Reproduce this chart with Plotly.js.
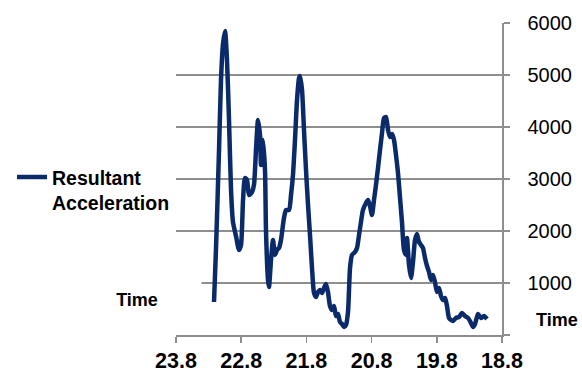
<!DOCTYPE html>
<html>
<head>
<meta charset="utf-8">
<script src="https://cdn.plot.ly/plotly-3.0.1.min.js"></script>
<style>html,body{margin:0;padding:0;background:#fff;}#chart{width:582px;height:372px;}</style>
</head>
<body>
<div id="chart"></div>
<script>
var seriesName = "Resultant<br>Acceleration";
var timeValues = [23.217,23.187,23.140,23.110,23.079,23.048,23.018,22.987,22.956,22.926,22.880,22.834,22.803,22.772,22.742,22.711,22.680,22.634,22.604,22.573,22.542,22.512,22.496,22.466,22.435,22.420,22.389,22.374,22.343,22.312,22.282,22.251,22.220,22.190,22.144,22.113,22.067,22.036,22.006,21.975,21.944,21.913,21.898,21.867,21.837,21.806,21.775,21.745,21.714,21.683,21.653,21.622,21.591,21.561,21.530,21.499,21.469,21.438,21.407,21.377,21.346,21.315,21.285,21.254,21.223,21.193,21.162,21.131,21.101,21.055,21.024,20.993,20.963,20.932,20.886,20.855,20.825,20.794,20.763,20.733,20.702,20.671,20.640,20.610,20.579,20.548,20.518,20.487,20.456,20.426,20.395,20.364,20.334,20.303,20.272,20.257,20.226,20.196,20.165,20.134,20.104,20.073,20.042,20.012,19.981,19.950,19.920,19.889,19.858,19.828,19.797,19.766,19.736,19.705,19.674,19.644,19.613,19.582,19.552,19.506,19.460,19.413,19.367,19.321,19.291,19.245,19.214,19.168,19.122,19.076,19.030];
var accelValues = [635,1640,3560,4900,5600,5846,5288,4135,2788,2173,1904,1635,1731,2596,3019,2981,2692,2750,2885,3558,4135,3846,3269,3750,3173,2019,1058,923,1442,1827,1538,1635,1673,1827,2250,2404,2404,2692,3077,3750,4519,4942,4981,4712,3942,3173,2500,1923,1288,808,731,827,865,808,904,981,827,558,481,558,365,404,250,212,154,192,442,1288,1538,1596,1673,1923,2173,2404,2538,2596,2481,2308,2596,2885,3212,3558,3885,4173,4192,3942,3808,3865,3750,3462,3115,2635,2173,1635,1538,1865,1346,1096,1404,1827,1942,1788,1731,1673,1481,1327,1212,1058,1154,1019,827,904,750,673,712,558,327,288,269,327,346,423,365,327,269,154,212,404,327,365,308];
var xTickVals = [23.8,22.8,21.8,20.8,19.8,18.8];
var xTickText = ["23.8","22.8","21.8","20.8","19.8","18.8"];
var yTickVals = [0,1000,2000,3000,4000,5000,6000];
var yTickText = ["","1000","2000","3000","4000","5000","6000"];
var axisTitle = "Time";

var FONT = "Liberation Sans, Arial, sans-serif";
var GRID = "#8e8e8e";

var trace = {
  x: timeValues, y: accelValues, type: "scatter", mode: "lines",
  name: seriesName,
  line: {color: "#0a2a6a", width: 4.5, shape: "spline", smoothing: 0.6}
};

var layout = {
  width: 582, height: 372,
  margin: {l: 176, r: 80, t: 23, b: 37, pad: 0, autoexpand: false},
  paper_bgcolor: "#fff", plot_bgcolor: "#fff",
  font: {family: FONT, color: "#000"},
  showlegend: true,
  legend: {x: -0.503, xanchor: "left", y: 0.568, yanchor: "top", valign: "top",
           bgcolor: "rgba(0,0,0,0)", borderwidth: 0,
           font: {family: FONT, size: 19.5, weight: "bold", color: "#000"}},
  xaxis: {range: [23.8, 18.8], tickmode: "array", tickvals: xTickVals, ticktext: xTickText,
          showgrid: false, zeroline: false, showline: true, linecolor: GRID, linewidth: 1.5,
          ticks: "outside", ticklen: 6, tickcolor: GRID, tickwidth: 1.5,
          tickfont: {family: FONT, size: 21.5, weight: "bold", color: "#000"}},
  yaxis: {range: [0, 6000], side: "right", tickmode: "array", tickvals: yTickVals, ticktext: yTickText,
          showgrid: true, gridcolor: GRID, gridwidth: 1.5, zeroline: false,
          showline: true, linecolor: GRID, linewidth: 1.5,
          ticks: "outside", ticklen: 6, tickcolor: GRID, tickwidth: 1.5, ticklabelstandoff: 14,
          tickfont: {family: FONT, size: 20, color: "#000"}},
  annotations: [
    {xref: "paper", yref: "paper", x: (137-176)/326, y: (335-300)/312, xanchor: "center", yanchor: "middle",
     text: axisTitle, showarrow: false, bgcolor: "#fff", width: 126, height: 38,
     font: {family: FONT, size: 18, weight: "bold", color: "#000"}},
    {xref: "paper", yref: "paper", x: (557-176)/326, y: (335-320)/312, xanchor: "center", yanchor: "middle",
     text: axisTitle, showarrow: false,
     font: {family: FONT, size: 18, weight: "bold", color: "#000"}}
  ]
};

Plotly.newPlot("chart", [trace], layout, {staticPlot: true, displayModeBar: false});
</script>
</body>
</html>
